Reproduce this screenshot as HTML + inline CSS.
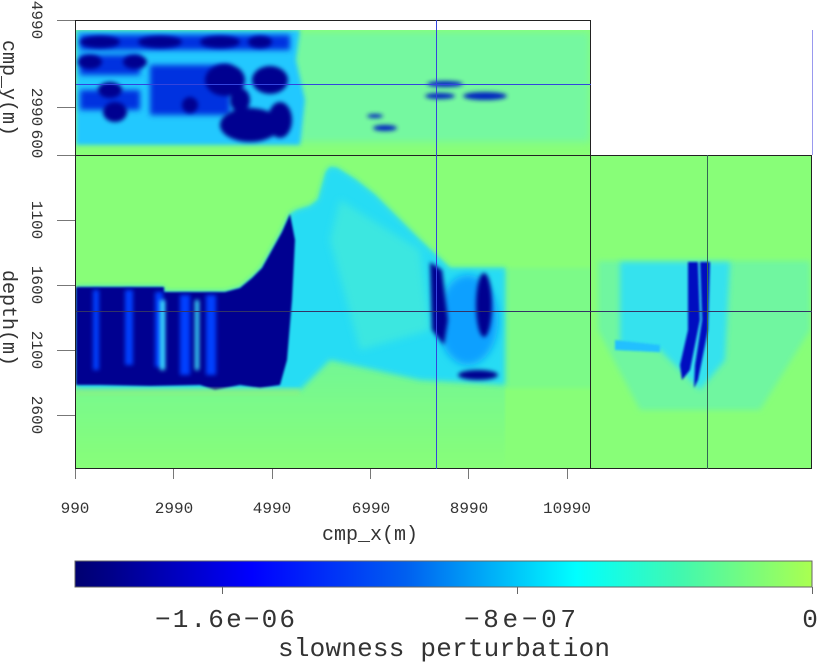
<!DOCTYPE html>
<html><head><meta charset="utf-8"><style>
html,body{margin:0;padding:0;background:#fff;}
svg{display:block;}
text{font-family:"Liberation Mono",monospace;fill:#333;}
</style></head><body>
<svg width="819" height="663" viewBox="0 0 819 663" xmlns="http://www.w3.org/2000/svg">
<defs>
<filter id="b2" x="-20%" y="-20%" width="140%" height="140%"><feGaussianBlur stdDeviation="2"/></filter>
<filter id="b3" x="-20%" y="-20%" width="140%" height="140%"><feGaussianBlur stdDeviation="3"/></filter>
<filter id="b4" x="-30%" y="-30%" width="160%" height="160%"><feGaussianBlur stdDeviation="4"/></filter>
<filter id="b1"><feGaussianBlur stdDeviation="1"/></filter>
<linearGradient id="cb" x1="0" x2="1" y1="0" y2="0">
<stop offset="0" stop-color="#000070"/>
<stop offset="0.05" stop-color="#00008a"/>
<stop offset="0.24" stop-color="#0000ff"/>
<stop offset="0.45" stop-color="#0060f0"/>
<stop offset="0.68" stop-color="#00ffff"/>
<stop offset="0.82" stop-color="#40f8b0"/>
<stop offset="1" stop-color="#aaff50"/>
</linearGradient>
<linearGradient id="low" x1="0" x2="0" y1="0" y2="1">
<stop offset="0" stop-color="#55eeb8"/>
<stop offset="0.5" stop-color="#6af4a0"/>
<stop offset="1" stop-color="#88fe78"/>
</linearGradient>
<clipPath id="cTop"><rect x="76" y="30" width="515" height="125"/></clipPath>
<clipPath id="cMain"><rect x="76" y="155" width="515" height="314"/></clipPath>
<clipPath id="cRight"><rect x="591" y="155" width="221" height="314"/></clipPath>
</defs>

<!-- TOP PANEL -->
<rect x="76" y="30" width="515" height="125" fill="#88fe78"/>
<g clip-path="url(#cTop)">
<rect x="290" y="32" width="300" height="110" fill="#74f8a0" filter="url(#b4)"/>
<path d="M76 30 H300 L296 60 L305 100 L300 145 H76 Z" fill="#20c8ff" filter="url(#b2)"/>
<g fill="#0030e0" filter="url(#b3)">
<rect x="80" y="35" width="210" height="15"/>
<rect x="80" y="55" width="60" height="20"/>
<rect x="150" y="65" width="80" height="50"/>
<rect x="80" y="90" width="60" height="20"/>
</g>
<g fill="#000090" filter="url(#b2)">
<ellipse cx="100" cy="42" rx="20" ry="6"/><ellipse cx="160" cy="42" rx="22" ry="6"/><ellipse cx="220" cy="42" rx="20" ry="6"/><ellipse cx="260" cy="42" rx="12" ry="6"/>
<ellipse cx="90" cy="62" rx="12" ry="7"/><ellipse cx="135" cy="62" rx="12" ry="7"/>
<ellipse cx="225" cy="80" rx="20" ry="16"/><ellipse cx="270" cy="80" rx="18" ry="14"/>
<ellipse cx="110" cy="90" rx="12" ry="8"/><ellipse cx="115" cy="112" rx="12" ry="10"/><ellipse cx="190" cy="105" rx="8" ry="8"/>
<ellipse cx="250" cy="125" rx="30" ry="17"/><ellipse cx="280" cy="120" rx="12" ry="18"/><ellipse cx="240" cy="100" rx="10" ry="12"/>
</g>
<g fill="#0020c0" filter="url(#b2)">
<ellipse cx="445" cy="84" rx="18" ry="3"/><ellipse cx="485" cy="96" rx="22" ry="4"/><ellipse cx="440" cy="96" rx="15" ry="3"/>
<ellipse cx="385" cy="128" rx="12" ry="3"/><ellipse cx="375" cy="116" rx="8" ry="2"/>
</g>
</g>

<!-- MAIN PANEL -->
<rect x="76" y="155" width="515" height="314" fill="#88fe78"/>
<g clip-path="url(#cMain)">
<rect x="500" y="268" width="100" height="120" fill="#7cfa88" filter="url(#b2)"/>
<path d="M76 287 H164 V292 H225 L240 288 L252 278 L262 268 L272 250 L282 232 L290 214 L297 210 L310 206 L318 200 L326 172 L330 167 L337 168 L356 180 L375 195 L400 220 L420 240 L436 255 L450 268 L505 268 L505 470 H76 Z" fill="url(#low)" filter="url(#b1)"/>
<path d="M76 287 H164 V292 H225 L240 288 L252 278 L262 268 L272 250 L282 232 L290 214 L297 210 L310 206 L318 200 L326 172 L330 167 L337 168 L356 180 L375 195 L400 220 L420 240 L436 255 L450 268 L505 268 L505 385 L420 380 L330 360 L300 390 H76 Z" fill="#28dcf4" filter="url(#b3)"/>
<path d="M330 240 L340 200 L420 250 L430 330 L360 350 Z" fill="#50f0d0" opacity="0.55" filter="url(#b4)"/>
<path d="M76 287 H164 V292 H225 L240 288 L252 278 L262 268 L272 250 L282 232 L290 214 L295 240 L292 300 L287 360 L280 385 L260 388 L240 385 L215 390 L200 385 L150 386 L100 385 H76 Z" fill="#000090" filter="url(#b1)"/>
<g fill="#0040ff" filter="url(#b2)">
<rect x="93" y="290" width="6" height="80"/><rect x="125" y="290" width="8" height="75"/><rect x="155" y="292" width="8" height="75"/><rect x="180" y="295" width="10" height="80"/><rect x="206" y="295" width="10" height="80"/>
</g>
<g fill="#40e8ff" filter="url(#b2)">
<rect x="160" y="300" width="5" height="70"/><rect x="195" y="300" width="4" height="70"/>
</g>
<g fill="#10a0ff" filter="url(#b4)"><ellipse cx="468" cy="320" rx="30" ry="45"/></g>
<g fill="#000090" filter="url(#b2)">
<path d="M430 262 L442 270 L448 320 L444 345 L432 330 Z"/>
<ellipse cx="484" cy="305" rx="8" ry="32"/>
<ellipse cx="478" cy="375" rx="20" ry="5"/>
</g>
<path d="M76 388 H300 L300 395 H76 Z" fill="#a0f070" opacity="0.5" filter="url(#b2)"/>
</g>

<!-- RIGHT PANEL -->
<rect x="591" y="155" width="221" height="314" fill="#88fe78"/>
<g clip-path="url(#cRight)">
<path d="M598 261 H810 V330 L760 410 H640 L598 330 Z" fill="#70f6a0" filter="url(#b3)"/>
<path d="M620 262 H730 L725 360 L700 390 L660 350 L620 345 Z" fill="#34e2ee" filter="url(#b3)"/>
<path d="M615 340 L660 345 L660 352 L615 350 Z" fill="#20c0ff" filter="url(#b1)"/>
<path d="M688 262 L698 262 L700 320 L690 370 L682 380 L680 365 L688 330 Z" fill="#0010c0" filter="url(#b1)"/>
<path d="M700 262 L710 262 L708 330 L698 380 L694 388 L695 365 L702 320 Z" fill="#0010c0" filter="url(#b1)"/>
</g>

<!-- frames & lines -->
<g fill="none" stroke-width="1">
<rect x="75.5" y="20.5" width="515" height="448" stroke="#222"/>
<line x1="75" y1="155.5" x2="812" y2="155.5" stroke="#222"/>
<rect x="590.5" y="155.5" width="221" height="313" stroke="#222"/>
<line x1="436.5" y1="20" x2="436.5" y2="469" stroke="#3344dd"/>
<line x1="76" y1="84.5" x2="591" y2="84.5" stroke="#3344dd"/>
<line x1="812.5" y1="30" x2="812.5" y2="155" stroke="#9999ee"/>
<line x1="76" y1="311.5" x2="812" y2="311.5" stroke="#333366"/>
<line x1="707.5" y1="155" x2="707.5" y2="469" stroke="#336655"/>
</g>
<g stroke="#777" stroke-width="1">
<line x1="75.5" y1="469" x2="75.5" y2="479"/><line x1="173.5" y1="469" x2="173.5" y2="479"/><line x1="272.5" y1="469" x2="272.5" y2="479"/><line x1="370.5" y1="469" x2="370.5" y2="479"/><line x1="468.5" y1="469" x2="468.5" y2="479"/><line x1="567.5" y1="469" x2="567.5" y2="479"/>
<line x1="57" y1="20.5" x2="75" y2="20.5"/><line x1="57" y1="107.5" x2="75" y2="107.5"/><line x1="57" y1="155.5" x2="75" y2="155.5"/>
<line x1="57" y1="220.5" x2="75" y2="220.5"/><line x1="57" y1="285.5" x2="75" y2="285.5"/><line x1="57" y1="350.5" x2="75" y2="350.5"/><line x1="57" y1="415.5" x2="75" y2="415.5"/>
</g>
<g font-size="16" text-anchor="middle">
<text x="75" y="513">990</text><text x="174" y="513">2990</text><text x="272" y="513">4990</text><text x="371" y="513">6990</text><text x="469" y="513">8990</text><text x="567" y="513">10990</text>
</g>
<text x="370" y="540" font-size="20" text-anchor="middle" font-family="Liberation Serif">cmp_x(m)</text>
<g font-size="16" text-anchor="middle">
<text transform="translate(32,20) rotate(90)">4990</text>
<text transform="translate(32,107) rotate(90)">2990</text>
<text transform="translate(32,144) rotate(90)">600</text>
<text transform="translate(32,220) rotate(90)">1100</text>
<text transform="translate(32,285) rotate(90)">1600</text>
<text transform="translate(32,350) rotate(90)">2100</text>
<text transform="translate(32,415) rotate(90)">2600</text>
</g>
<g font-size="20" text-anchor="middle" font-family="Liberation Serif">
<text transform="translate(3,88) rotate(90)">cmp_y(m)</text>
<text transform="translate(3,318) rotate(90)">depth(m)</text>
</g>

<!-- colorbar -->
<rect x="75" y="561" width="737" height="26" fill="url(#cb)" stroke="#666" stroke-width="1"/>
<g stroke="#666"><line x1="222.5" y1="587" x2="222.5" y2="594"/><line x1="517.5" y1="587" x2="517.5" y2="594"/><line x1="812.5" y1="587" x2="812.5" y2="594"/></g>
<g font-size="26" text-anchor="middle" font-family="Liberation Serif" fill="#333">
<text x="225" y="627" textLength="140">−1.6e−06</text>
<text x="520" y="627" textLength="112">−8e−07</text>
<text x="810" y="627">0</text>
<text x="444" y="656" font-family="Liberation Mono" font-size="26" textLength="332">slowness perturbation</text>
</g>
</svg>
</body></html>
